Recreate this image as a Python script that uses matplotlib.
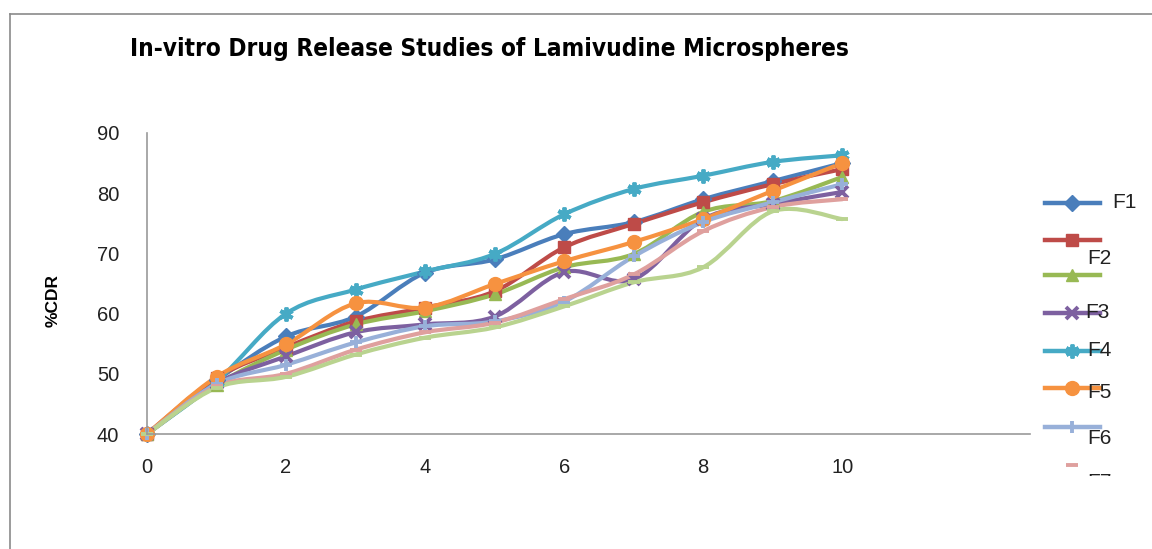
import numpy as np
import matplotlib
matplotlib.use('Agg')
import matplotlib.pyplot as plt
from matplotlib.path import Path
from matplotlib.patches import PathPatch
from matplotlib.lines import Line2D
from matplotlib.transforms import Bbox

# time points (h) and %CDR per formulation
time_h = [0, 1, 2, 3, 4, 5, 6, 7, 8, 9, 10]
f1 = [40, 48.9, 56.2, 59.5, 66.8, 69.0, 73.2, 75.2, 79.0, 82.0, 85.0]
f2 = [40, 49.3, 54.4, 58.7, 61.0, 63.7, 71.0, 74.9, 78.5, 81.5, 84.0]
f3 = [40, 48.2, 54.0, 58.2, 60.4, 63.2, 67.7, 69.9, 76.9, 78.7, 82.7]
f4 = [40, 48.4, 52.9, 56.9, 58.2, 59.5, 66.9, 65.7, 75.7, 78.2, 80.2]
f5 = [40, 48.7, 60.0, 64.0, 67.0, 69.9, 76.5, 80.7, 82.9, 85.2, 86.3]
f6 = [40, 49.5, 54.9, 61.7, 61.0, 64.9, 68.7, 71.9, 75.7, 80.4, 85.0]
f7 = [40, 48.3, 51.5, 55.2, 57.9, 58.7, 62.0, 69.5, 75.2, 78.5, 81.5]
f8 = [40, 47.9, 50.0, 54.0, 56.9, 58.5, 62.4, 66.5, 73.7, 77.7, 79.0]
f9 = [40, 47.7, 49.5, 53.2, 56.0, 57.7, 61.2, 65.2, 67.7, 77.0, 75.7]
names = ['F1', 'F2', 'F3', 'F4', 'F5', 'F6', 'F7', 'F8', 'F9']
series = [f1, f2, f3, f4, f5, f6, f7, f8, f9]

colors = ['#4A7EBB', '#BE4B48', '#98B954', '#7D60A0', '#46AAC5',
          '#F69240', '#98B0D9', '#DFA09E', '#B9D38F']
markers = ['D', 's', '^', 'x', (6, 2, 0), 'o', '+', '_', '_']
msizes = [8, 9, 9, 9, 10, 10, 9, 8, 8]


def smooth_path(x, y):
    # Excel-style smoothed line: Catmull-Rom segments as cubic Beziers
    p = np.column_stack([x, y]).astype(float)
    n = len(p)
    verts = [p[0]]
    codes = [Path.MOVETO]
    for i in range(n - 1):
        p0 = p[i - 1] if i > 0 else p[i]
        p3 = p[i + 2] if i + 2 < n else p[i + 1]
        c1 = p[i] + (p[i + 1] - p0) / 6.0
        c2 = p[i + 1] - (p3 - p[i]) / 6.0
        verts += [c1, c2, p[i + 1]]
        codes += [Path.CURVE4] * 3
    return Path(verts, codes)


def mew_for(m):
    return 2.8 if m in ('x', '+', '_') or isinstance(m, tuple) else 1


W, H = 1152, 549
fig = plt.figure(figsize=(W / 100, H / 100), dpi=100)
plt.rcParams['font.family'] = ['Liberation Sans', 'DejaVu Sans']

ax = fig.add_axes([147 / W, 115 / H, (1030 - 147) / W, (434 - 133) / H])
for name, vals, c, m, ms in zip(names, series, colors, markers, msizes):
    ax.add_patch(PathPatch(smooth_path(time_h, vals), facecolor='none',
                           edgecolor=c, lw=3.0, capstyle='round', joinstyle='round'))
    ax.plot(time_h, vals, linestyle='none', marker=m, ms=ms, color=c,
            mec=c, mew=mew_for(m), clip_on=False)

ax.set_xlim(0, 12.7)
ax.set_ylim(40, 90)
ax.set_xticks([0, 2, 4, 6, 8, 10])
ax.set_yticks([40, 50, 60, 70, 80, 90])
ax.tick_params(axis='both', length=0, labelsize=14.5, colors='#222222')
ax.tick_params(axis='x', pad=17)
ax.tick_params(axis='y', pad=20)
for s in ('top', 'right'):
    ax.spines[s].set_visible(False)
for s in ('left', 'bottom'):
    ax.spines[s].set_color('#9a9a9a')
    ax.spines[s].set_linewidth(1.2)
ax.set_ylabel('%CDR', fontsize=12.5, fontweight='bold')
ax.yaxis.set_label_coords(-0.098, 0.445)

fig.text(130 / W, 1 - 49 / H, 'In-vitro Drug Release Studies of Lamivudine Microspheres',
         fontsize=17.5, fontweight='bold', fontstretch='condensed', ha='left', va='center',
         family=['DejaVu Sans'])

# outer chart border
fig.add_artist(Line2D([10 / W, 1], [1 - 14 / H, 1 - 14 / H], color='#8a8a8a', lw=1.2))
fig.add_artist(Line2D([10 / W, 10 / W], [0, 1 - 14 / H], color='#8a8a8a', lw=1.2))

# legend, drawn by hand to match the squashed Excel layout
leg_y = [203, 240, 275, 313, 351, 388, 427, 465]
for k, yy in enumerate(leg_y):
    yf = 1 - yy / H
    if k < 7:
        fig.add_artist(Line2D([1045 / W, 1100 / W], [yf, yf], color=colors[k], lw=3.2))
    m = markers[k]
    fig.add_artist(Line2D([1072 / W], [yf], marker=m, ms=msizes[k], color=colors[k],
                          mec=colors[k], linestyle='none', mew=mew_for(m)))
lab_pos = [(1112, 203), (1087, 258), (1085, 313), (1087, 351),
           (1087, 392), (1087, 438), (1087, 482)]
clip = Bbox([[0, H - 476], [W, H]])
for k, (xx, yy) in enumerate(lab_pos):
    t = fig.text(xx / W, 1 - yy / H, names[k], fontsize=15, ha='left', va='center',
                 color='#222222')
    if k == 6:
        t.set_clip_box(clip)
        t.set_clip_on(True)

fig.savefig('out.png', dpi=100)
